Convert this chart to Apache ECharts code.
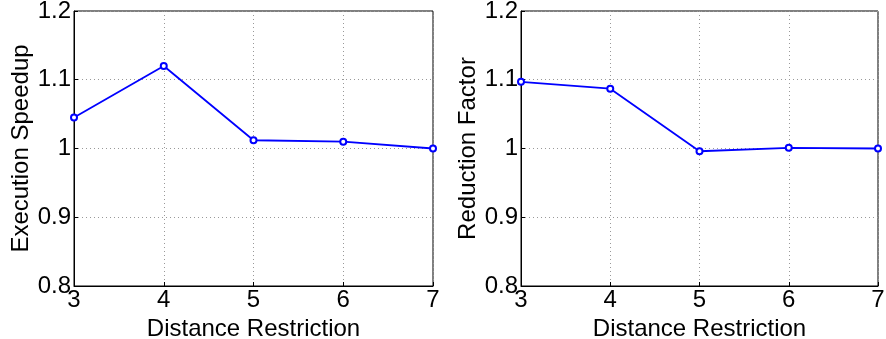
<!DOCTYPE html>
<html><head><meta charset="utf-8">
<script src="https://cdn.jsdelivr.net/npm/echarts@6/dist/echarts.min.js"></script>
<style>html,body{margin:0;padding:0;background:#fff}#c{width:886px;height:339px}</style>
</head><body><div id="c"></div>
<script>
const distances = [3, 4, 5, 6, 7];
const speedup = [1.045, 1.120, 1.012, 1.010, 1.000];
const reduction = [1.097, 1.087, 0.996, 1.001, 1.000];
const xTitle = 'Distance Restriction';
const yTitles = ['Execution Speedup', 'Reduction Factor'];

const FONT = 'Liberation Sans, Arial, Helvetica, sans-serif';
const chart = echarts.init(document.getElementById('c'), null, {renderer: 'canvas'});
const grids = [
  {left: 74, right: 453, top: 11, bottom: 53},
  {left: 521, right: 8, top: 11, bottom: 53}
];
function xAx(i) {
  return {
    type: 'value', gridIndex: i, min: 3, max: 7, interval: 1,
    name: xTitle, nameLocation: 'middle', nameGap: 24,
    nameTextStyle: {fontFamily: FONT, fontSize: 24, color: '#000'},
    axisLine: {lineStyle: {color: '#000', width: 1}},
    axisTick: {inside: true, length: 4, lineStyle: {color: '#000'}},
    axisLabel: {fontFamily: FONT, fontSize: 24, color: '#000', margin: 2},
    splitLine: {show: true, lineStyle: {color: '#999', type: [1, 3], width: 1}}
  };
}
function yAx(i) {
  return {
    type: 'value', gridIndex: i, min: 0.8, max: 1.2, interval: 0.1,
    name: yTitles[i], nameLocation: 'middle', nameGap: 41,
    nameTextStyle: {fontFamily: FONT, fontSize: 24, color: '#000'},
    axisLine: {show: true, lineStyle: {color: '#000', width: 1}},
    axisTick: {show: true, inside: true, length: 4, lineStyle: {color: '#000'}},
    axisLabel: {fontFamily: FONT, fontSize: 24, color: '#000', margin: 3,
      formatter: v => String(Math.round(v * 10) / 10)},
    splitLine: {show: true, lineStyle: {color: '#999', type: [1, 3], width: 1}}
  };
}
function ser(i, vals) {
  return {
    type: 'line', xAxisIndex: i, yAxisIndex: i,
    data: distances.map((d, k) => [d, vals[k]]),
    symbol: 'emptyCircle', symbolSize: 6,
    lineStyle: {color: '#0000ff', width: 1.8},
    itemStyle: {color: '#0000ff', borderColor: '#0000ff', borderWidth: 1.6},
    animation: false
  };
}
chart.setOption({
  animation: false,
  grid: grids.map(g => Object.assign({show: true, borderColor: '#000', borderWidth: 1, backgroundColor: 'transparent', containLabel: false, outerBoundsMode: 'none'}, g)),
  xAxis: [xAx(0), xAx(1)],
  yAxis: [yAx(0), yAx(1)],
  series: [ser(0, speedup), ser(1, reduction)]
});
</script></body></html>
